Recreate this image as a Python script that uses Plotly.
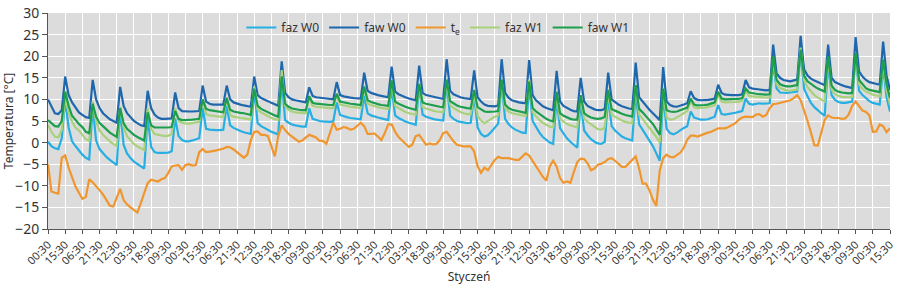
import plotly.graph_objects as go

# sampling times (hours from 00:30 on 1 January), every 3 hours
hours = list(range(0, 736, 3))

faz_W0 = [
    0.2, -0.8, -1.3, -1.5, 1,
    9.8, 3.5, 0.3, -0.8, -1.8, -2.8, -3.5, -3.9,
    8.3, 0.5, -1.5, -2.5, -3.3, -4, -4.6, -5.2,
    7.8, -0.5, -2.5, -3.6, -4.4, -5, -5.6, -6,
    6, -1, -2.2, -2.4, -2.4, -2.4, -2.3, -2,
    5.6, 1.5, 0.6, 0.3, 0.3, 0.5, 0.8, 1,
    8, 3.2, 3, 2.9, 2.9, 2.9, 3,
    8.5, 4, 3.4, 3, 2.7, 2.4, 2.2, 2,
    12.3, 4.5, 3.8, 3.3, 2.9, 2.5, 2.2, 1.9,
    14.8, 5.2, 4.6, 4.2, 4, 3.8, 3.7, 3.7,
    7.9, 5.5, 5.2, 5, 4.9, 4.8, 4.8, 4.9,
    9.3, 6.4, 6.1, 5.9, 5.7, 5.6, 5.5, 5.4,
    10.8, 6.8, 6.3, 6, 5.8, 5.6, 5.4, 5.2,
    12.8, 6.3, 5.7, 5.2, 4.9, 4.6, 4.3, 4.1,
    13.3, 6.5, 6, 5.7, 5.5, 5.3, 5.2, 5.1,
    13.8, 6.2, 5.5, 5, 4.8, 4.6, 4.5, 4.6,
    11, 3.5, 2, 1.4, 1.7, 2.5, 3.5, 4.4,
    14, 5.5, 4.3, 3.5, 3, 2.6, 2.3, 2.2,
    13.3, 5, 3.5, 2.3, 1.3, 0.6, 0, -0.3,
    10.2, 3.3, 2, 1, 0.2, -0.6, -1.2,
    9.5, 2.8, 1.7, 0.8, 0.2, -0.2, -0.3, 0.2,
    10.6, 3.8, 2.8, 2, 1.4, 1, 0.7, 0.5,
    11.5, 4.2, 3, 1.8, 0.6, -0.8, -2.5, -4.2,
    11, 3.2, 2.2, 1.9, 2.3, 2.9, 3.4, 3.8,
    7.2, 5.8, 5.5, 5.3, 5.3, 5.4, 5.7, 6,
    8.7, 6.6, 6.5, 6.6, 6.7, 6.9, 7.1, 7.3,
    10.2, 9, 8.8, 9, 9.1, 9, 9, 9.1,
    18.4, 12.5, 11.6, 11.5, 11.5, 11.6, 11.7, 11.8,
    21, 12.5, 10.7, 9.2, 8.2, 7.4, 6.8, 6.2,
    18.4, 11, 9.9, 9.4, 9.2, 9.2, 9.3, 9.5,
    20, 12, 11, 10.2, 9.6, 9.2, 9, 8.8,
    17.6, 10.5, 7.2,
]

faw_W0 = [
    10, 8.2, 6.8, 6.6, 7.5,
    15.3, 11, 9.3, 8, 7, 6.4, 5.9, 5.7,
    14.5, 10, 8, 6.8, 6, 5.4, 5, 4.6,
    12.9, 8.5, 6.8, 5.8, 5, 4.5, 4, 3.8,
    12, 8, 6.5, 5.8, 5.5, 5.5, 5.5, 5.6,
    11.6, 8, 7.3, 7.2, 7.2, 7.2, 7.2, 7.3,
    13.2, 9.5, 9, 8.8, 8.8, 8.8, 8.8,
    13.2, 10, 9.3, 9, 8.8, 8.6, 8.4, 8.3,
    15.3, 11, 10.3, 10, 9.6, 9.2, 8.8, 8.5,
    18.8, 11.5, 10.5, 10, 9.8, 9.6, 9.4, 9.3,
    12.8, 10.8, 10.5, 10.4, 10.3, 10.2, 10.1, 10,
    14, 11, 10.7, 10.5, 10.4, 10.3, 10.2, 10.2,
    16.2, 12, 11.5, 11.2, 11, 10.8, 10.6, 10.5,
    17.6, 11.8, 11.2, 10.8, 10.5, 10.2, 10, 9.8,
    17.8, 11.5, 11, 10.8, 10.6, 10.4, 10.2, 10.1,
    19.3, 12, 11.2, 10.8, 10.5, 10.3, 10.2, 10.1,
    16.7, 10.5, 9.5, 8.8, 8.5, 8.4, 8.4, 8.6,
    19.3, 11.5, 10.4, 9.8, 9.5, 9.3, 9.2, 9.1,
    19.1, 11, 9.8, 9, 8.4, 8, 7.7, 7.5,
    16.6, 9.5, 8.5, 8, 7.6, 7.3, 7.2,
    15, 9.5, 8.5, 8, 7.7, 7.5, 7.5, 7.8,
    16.2, 10, 9.3, 8.8, 8.4, 8.1, 7.9, 7.8,
    18.5, 10.5, 9.5, 8.5, 7.6, 6.8, 6, 5.2,
    17.5, 9.5, 8.7, 8.4, 8.3, 8.5, 8.8, 9.1,
    11.9, 10.3, 9.9, 9.8, 9.8, 9.9, 10, 10.2,
    13.4, 11.5, 11.1, 11, 11, 11, 11, 11.2,
    14.5, 12.8, 12.5, 12.4, 12.3, 12.2, 12.1, 12.2,
    22.7, 16, 15, 14.5, 14.3, 14.2, 14.4, 14.6,
    24.7, 17, 15.5, 14.8, 14.4, 14, 13.6, 13.3,
    22.7, 15, 14, 13.6, 13.3, 13, 12.8, 12.6,
    24.4, 16.5, 15.3, 14.5, 14, 13.8, 13.6, 13.4,
    23.4, 15.5, 12.2,
]

t_e = [
    -5, -11.3, -11.6, -11.8, -3.5, -3, -5.8, -8.2, -10.2, -11.6,
    -13, -12.6, -8.5, -9.2, -10, -11, -12, -13.3, -14.6, -14.8,
    -12.5, -10.7, -13.3, -14.3, -15, -15.5, -16.2, -14, -11.5, -9.4,
    -8.6, -8.8, -9, -8.5, -8.2, -7, -5.5, -5.3, -5.2, -6.3,
    -5.2, -5, -5.3, -5.2, -2.2, -1.5, -2.2, -2.1, -2, -1.8,
    -1.6, -1.4, -1, -1.1, -1.6, -2.2, -2.7, -3.5, -2.8, 0.5,
    2.5, 2.6, 1.8, 1.8, 1.5, -0.9, -3.2, 1.5, 4, 2.9,
    2, 1.4, 0.7, 0.2, 0.5, 1.1, 1.8, 1.5, 1.2, 0.4,
    0.4, -0.3, 2.2, 4.6, 3, 3.2, 3.6, 3.4, 3, 3.2,
    3.9, 4.6, 3.8, 2, 2, 2.1, 1.4, 0.6, 2.2, 4.2,
    4.2, 2.5, 1.3, 0.5, -0.3, -1, -0.5, 1.5, 1.8, 0.6,
    -0.5, -0.2, -0.4, -0.3, 0.6, 2.2, 2.5, 1.4, 0.3, -0.5,
    -0.7, -0.9, -0.8, -0.9, -2, -5.5, -7, -5.8, -6.4, -5.3,
    -4, -3.3, -3.6, -3.6, -3.6, -3.8, -4, -4, -3.2, -2.5,
    -3, -4.3, -5.6, -6.8, -7.9, -8.8, -5.5, -4.2, -5.6, -8.2,
    -9.3, -9, -9.3, -6.8, -4.5, -3.7, -3.8, -4.8, -6.4, -6,
    -5.1, -4.9, -4.5, -3.8, -3.6, -4.2, -4.8, -5.6, -5.6, -4.8,
    -3.9, -3.2, -6, -9.5, -9.5, -11, -13.2, -14.7, -6.5, -3.6,
    -2.8, -3.3, -3.4, -2.8, -2.3, -1.2, 0.7, 1.6, 1.6, 1.4,
    1.7, 2.1, 2.3, 2.5, 2.9, 3.3, 3.3, 3.3, 3.6, 4,
    4.5, 5.3, 5.8, 6, 6, 5.9, 6.5, 6.6, 6, 6.4,
    8, 8.9, 9, 9.2, 9.4, 9.6, 9.8, 10.3, 11, 9.8,
    7.5, 5, 2.3, -0.6, -0.7, 2.5, 5.3, 6.3, 5.8, 5.7,
    5.7, 5.5, 5.6, 6.5, 8.5, 9.5, 8.5, 7.4, 7.1, 6.3,
    2.5, 2.6, 4.2, 3.8, 2.4, 3.3,
]

faz_W1 = [
    4.1, 2.5, 1.4, 1.2, 3,
    10.3, 7, 4.8, 3.5, 2.8, 1.8, 0.8, 0.4,
    9.5, 4.8, 2.8, 1.8, 1, 0.3, -0.3, -0.8,
    8.3, 3.5, 1.5, 0.5, -0.3, -0.9, -1.4, -1.7,
    8, 3.2, 2, 1.8, 1.6, 1.5, 1.6, 2,
    8, 5, 4.6, 4.4, 4.4, 4.5, 4.6, 4.8,
    10, 6.6, 6.3, 6.2, 6.1, 6, 5.9,
    10.5, 6.4, 6, 5.8, 5.7, 5.6, 5.4, 5.3,
    13, 7.6, 7, 6.5, 6.1, 5.7, 5.4, 5.2,
    16.8, 8.5, 7.6, 7.2, 7, 6.9, 6.8, 6.8,
    10.5, 8.5, 8.3, 8.2, 8.1, 8.1, 8, 8,
    11, 8.8, 8.6, 8.4, 8.3, 8.2, 8.1, 8,
    12.5, 9, 8.7, 8.4, 8.2, 8, 7.9, 7.8,
    14, 8.5, 8, 7.5, 7.1, 6.8, 6.6, 6.5,
    13.5, 8.2, 7.9, 7.6, 7.4, 7.2, 7.1, 7,
    14, 8.7, 8, 7.5, 7.1, 6.8, 6.6, 6.6,
    11.5, 6.2, 5.1, 4.5, 5, 5.6, 6, 6.3,
    14, 8, 7.2, 6.8, 6.6, 6.4, 6.3, 6.2,
    14.5, 7, 6, 5.2, 4.6, 4.1, 3.7, 3.5,
    11, 5.5, 4.8, 4.3, 4, 3.7, 3.5,
    10.5, 5.6, 4.8, 4.2, 3.6, 3.1, 3, 3.5,
    11.5, 6.5, 6, 5.5, 5.1, 4.8, 4.6, 4.5,
    13, 6.5, 5.5, 4.5, 3.5, 2.5, 1.3, 0,
    12, 5.8, 5.3, 5.4, 5.8, 6.3, 6.8, 7.3,
    9.6, 8.2, 8, 8, 8.1, 8.2, 8.4, 8.7,
    11, 9.5, 9.3, 9.3, 9.3, 9.4, 9.5, 9.7,
    12, 10.8, 10.7, 10.7, 10.6, 10.5, 10.4, 10.4,
    19.5, 13.5, 12.6, 12.3, 12.1, 12, 12.1, 12.3,
    22, 14.5, 12.8, 11.8, 11, 10.4, 9.9, 9.5,
    19.5, 12.2, 11.2, 10.8, 10.6, 10.5, 10.5, 10.6,
    20, 13.5, 12.4, 11.8, 11.4, 11.1, 10.9, 10.7,
    18.5, 12.2, 8.8,
]

faw_W1 = [
    5.2, 4.4, 3.8, 3.7, 5,
    11.8, 8.5, 6.2, 5.2, 4.3, 3.6, 2.5, 2.2,
    9, 6, 4.5, 3.8, 3, 2.3, 1.8, 1.3,
    8, 4.5, 3.2, 2.4, 1.8, 1.3, 0.9, 0.5,
    7, 4, 3.5, 3.5, 3.4, 3.4, 3.5, 3.6,
    7.3, 5.5, 5.2, 5.2, 5.2, 5.3, 5.4, 5.5,
    10, 7.8, 7.5, 7.4, 7.3, 7.2, 7,
    10.3, 7.6, 7.2, 7, 6.9, 6.8, 6.6, 6.4,
    12.5, 8.5, 7.8, 7.4, 7, 6.7, 6.3, 6,
    15.3, 9, 8.3, 7.9, 7.7, 7.6, 7.5, 7.5,
    10.7, 9.2, 9, 8.9, 8.8, 8.7, 8.7, 8.7,
    11.3, 9.5, 9.3, 9.1, 9, 8.9, 8.8, 8.7,
    13, 9.8, 9.4, 9.1, 8.9, 8.7, 8.6, 8.5,
    14.4, 9.5, 9, 8.6, 8.3, 8, 7.8, 7.6,
    13.6, 9.3, 9, 8.8, 8.6, 8.4, 8.3, 8.2,
    14.6, 9.6, 9, 8.6, 8.3, 8.1, 8, 7.9,
    12.2, 8.2, 7.6, 7.2, 7.1, 7.1, 7.2, 7.3,
    14.6, 8.8, 8, 7.6, 7.4, 7.2, 7, 6.9,
    14.1, 8, 7.2, 6.6, 6, 5.5, 5.1, 4.9,
    11.8, 6.8, 6.2, 5.8, 5.5, 5.3, 5.3,
    11, 6.8, 6.2, 5.8, 5.6, 5.5, 5.6, 6,
    12.2, 7.8, 7.4, 7, 6.7, 6.4, 6.2, 6,
    13.3, 7.8, 7, 6.2, 5.2, 4.3, 3.2, 1.8,
    12.5, 7.5, 7.2, 7.1, 7.2, 7.5, 7.8, 8.1,
    10.2, 8.8, 8.6, 8.6, 8.7, 8.8, 9, 9.3,
    11.8, 10.2, 10, 10, 10, 10, 10.1, 10.3,
    12.5, 11.6, 11.4, 11.3, 11.2, 11.1, 11.1, 11.2,
    20, 14.5, 13.5, 13.2, 13, 13, 13.1, 13.3,
    21.5, 15.5, 14.2, 13.5, 13, 12.5, 12.1, 11.8,
    20, 13.2, 12.2, 11.8, 11.6, 11.5, 11.4, 11.5,
    20.7, 14.5, 13.4, 12.6, 12.2, 12, 11.8, 11.7,
    19.2, 13.5, 10.3,
]

tick_hours = list(range(0, 736, 15))
tick_labels = [
    "00:30", "15:30", "06:30", "21:30", "12:30", "03:30", "18:30", "09:30",
    "00:30", "15:30", "06:30", "21:30", "12:30", "03:30", "18:30", "09:30",
    "00:30", "15:30", "06:30", "21:30", "12:30", "03:30", "18:30", "09:30",
    "00:30", "15:30", "06:30", "21:30", "12:30", "03:30", "18:30", "09:30",
    "00:30", "15:30", "06:30", "21:30", "12:30", "03:30", "18:30", "09:30",
    "00:30", "15:30", "06:30", "21:30", "12:30", "03:30", "18:30", "09:30",
    "00:30", "15:30",
]

series = [
    ("faz W0", faz_W0, "#27aee3"),
    ("faw W0", faw_W0, "#1f67ad"),
    ("t<sub>e</sub>", t_e, "#f0962e"),
    ("faz W1", faz_W1, "#a9d17b"),
    ("faw W1", faw_W1, "#1c9e4c"),
]
for name, vals, _ in series:
    assert len(vals) == len(hours), (name, len(vals), len(hours))

FONT = "Noto Sans"
fig = go.Figure()
for name, vals, color in series:
    fig.add_trace(go.Scatter(x=hours, y=vals, name=name, mode="lines",
                             line=dict(color=color, width=2.2)))

fig.update_layout(
    width=900, height=286,
    margin=dict(l=48, r=10, t=13, b=57),
    paper_bgcolor="white",
    plot_bgcolor="#dcdcdc",
    font=dict(family=FONT, color="#333333", size=12),
    showlegend=True,
    legend=dict(orientation="h", x=0.463, xanchor="center", y=1.0, yanchor="top",
                bgcolor="rgba(0,0,0,0)", font=dict(size=12, color="#333333"),
                itemwidth=30, tracegroupgap=0),
)
fig.update_xaxes(
    range=[0, 735], tickmode="array", tickvals=tick_hours, ticktext=tick_labels,
    tickangle=-45, tickfont=dict(size=11, color="#333333"),
    showgrid=True, gridcolor="white", gridwidth=1, zeroline=False,
    showline=True, linecolor="#555555", linewidth=1,
    ticks="outside", ticklen=4, tickcolor="#555555", automargin=False,
    title=dict(text="Styczeń", font=dict(size=12), standoff=6),
)
fig.update_yaxes(
    range=[-20, 30], tickmode="array", tickvals=list(range(-20, 31, 5)),
    tickfont=dict(size=14, color="#333333"),
    showgrid=True, gridcolor="white", gridwidth=1, zeroline=False,
    showline=True, linecolor="#555555", linewidth=1,
    ticks="outside", ticklen=5, tickcolor="#555555", automargin=False,
    title=dict(text="Temperatura [°C]", font=dict(size=12), standoff=4),
)
fig.write_html("out.html")
